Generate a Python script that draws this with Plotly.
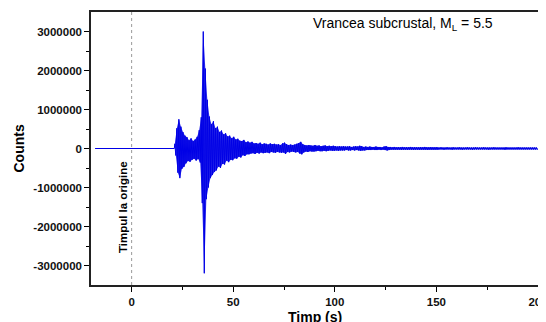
import plotly.graph_objects as go

# ---- data ----
pre_event_time = [-18, 21]          # quiet trace before the onset (s)
pre_event_counts = [0, 0]

bin_start_s = 21                     # first 1-second bin of the shaking record
# per-second maximum / minimum of the trace, in thousands of counts
upper_kcounts = [
    120, 520, 750, 560, 420, 330, 290, 210, 260, 190,   # 21-30
    230, 300, 470, 800, 3000, 2050, 1250, 820, 620, 700,  # 31-40
    520, 560, 420, 460, 360, 390, 310, 330, 260, 300,   # 41-50
    230, 250, 200, 190, 220, 160, 180, 150, 170, 130,   # 51-60
    140, 120, 150, 110, 130, 120, 100, 130, 110, 120,   # 61-70
    100, 110, 90, 130, 150, 110, 90, 100, 90, 100,      # 71-80
    120, 140, 170, 110, 90, 80, 90, 80, 70, 90,         # 81-90
    70, 80, 60, 70, 80, 60, 70, 60, 70, 60,             # 91-100
    50, 60, 50, 60, 50, 50, 60, 40, 50, 60,             # 101-110
    50, 70, 60, 40, 50, 40, 50, 40, 40, 50,             # 111-120
    40, 40, 30, 50, 60, 40, 40, 30, 40, 30,             # 121-130
    35, 30, 40, 30, 35, 30, 40, 30, 35, 30,             # 131-140
    30, 35, 30, 40, 30, 30, 35, 30, 30, 35,             # 141-150
    25, 30, 25, 25, 30, 25, 25, 30, 25, 25,             # 151-160
    30, 25, 25, 25, 30, 25, 25, 25, 30, 25,             # 161-170
    25, 25, 30, 25, 25, 25, 25, 30, 25, 25,             # 171-180
    25, 25, 25, 30, 25, 25, 25, 25, 25, 30,             # 181-190
    25, 25, 25, 25, 25, 25, 25, 25, 25,                 # 191-199
]
lower_kcounts = [
    -180, -620, -760, -520, -470, -380, -320, -340, -290, -260,
    -310, -270, -360, -1400, -3200, -1300, -1000, -760, -680, -600,
    -560, -460, -500, -390, -410, -310, -350, -290, -300, -250,
    -260, -210, -230, -170, -190, -150, -150, -130, -120, -140,
    -110, -130, -100, -120, -110, -100, -120, -90, -100, -110,
    -90, -100, -110, -100, -140, -90, -100, -80, -90, -100,
    -90, -130, -150, -100, -80, -90, -70, -80, -80, -70,
    -60, -70, -70, -60, -70, -60, -50, -60, -60, -50,
    -60, -50, -50, -50, -40, -50, -50, -40, -50, -40,
    -50, -60, -50, -50, -40, -40, -40, -30, -40, -40,
    -30, -40, -30, -40, -50, -40, -30, -30, -30, -30,
    -30, -35, -30, -30, -35, -30, -30, -35, -30, -30,
    -35, -30, -30, -30, -35, -30, -30, -30, -30, -30,
    -25, -25, -30, -25, -25, -25, -30, -25, -25, -25,
    -25, -30, -25, -25, -25, -25, -30, -25, -25, -25,
    -25, -25, -25, -25, -30, -25, -25, -25, -25, -25,
    -25, -25, -30, -25, -25, -25, -25, -25, -25, -25,
    -25, -25, -25, -25, -25, -25, -25, -25, -25,
]

x_ticks = [0, 50, 100, 150, 200]
y_ticks = [-3000000, -2000000, -1000000, 0, 1000000, 2000000, 3000000]

# ---- build the trace (max then min within each 1 s bin) ----
up_x, up_y, lo_x, lo_y = [], [], [], []
for i, (u, l) in enumerate(zip(upper_kcounts, lower_kcounts)):
    t = bin_start_s + i
    up_x.append(t + 0.25)
    up_y.append(u * 1000)
    lo_x.append(t + 0.75)
    lo_y.append(l * 1000)

xs = list(pre_event_time)
ys = list(pre_event_counts)
for a, b, c, d in zip(up_x, up_y, lo_x, lo_y):
    xs += [a, c]
    ys += [b, d]
xs.append(200)
ys.append(0)

# envelope band (same max / min values) so the dense trace reads as solid
band_x = up_x + lo_x[::-1]
band_y = up_y + lo_y[::-1]

FONT = "Arial, Liberation Sans, Helvetica, sans-serif"
BLUE = "#0000e6"

# the page body adds an 8 px offset, so the figure is 8 px smaller
PLOT_W, PLOT_H = 447, 273

fig = go.Figure()
fig.add_trace(go.Scatter(x=band_x, y=band_y, mode="none", fill="toself",
                         fillcolor="rgba(0,0,230,0.85)",
                         hoverinfo="skip", showlegend=False))
fig.add_trace(go.Scatter(x=xs, y=ys, mode="lines",
                         line=dict(color=BLUE, width=1, simplify=False),
                         hoverinfo="skip", showlegend=False))

fig.add_shape(type="line", xref="x", yref="paper", x0=0, x1=0, y0=0, y1=1,
              line=dict(color="#9a9a9a", width=1, dash="dot"))

fig.update_layout(
    width=538, height=314,
    margin=dict(l=83, r=8, t=4, b=37, autoexpand=False),
    paper_bgcolor="white", plot_bgcolor="white",
    font=dict(family=FONT, color="black"),
    showlegend=False,
)

fig.update_xaxes(
    range=[-20, 200], tickvals=x_ticks, ticktext=[str(v) for v in x_ticks],
    ticks="outside", ticklen=5, tickwidth=1.2, tickcolor="black",
    minor=dict(tickvals=[25, 75, 125, 175], ticks="outside", ticklen=3,
               tickwidth=1, tickcolor="black"),
    showline=True, linecolor="#222", linewidth=1.5, mirror=True,
    showgrid=False, zeroline=False, automargin=False,
    ticklabeloverflow="allow",
    tickfont=dict(size=11.5, family=FONT, color="#111", weight="bold"),
)
fig.update_yaxes(
    range=[-3500000, 3500000], tickvals=y_ticks,
    ticktext=[str(v) for v in y_ticks],
    ticks="outside", ticklen=5, tickwidth=1.2, tickcolor="black",
    minor=dict(tickvals=[-2500000, -1500000, -500000, 500000, 1500000, 2500000],
               ticks="outside", ticklen=3, tickwidth=1, tickcolor="black"),
    showline=True, linecolor="#222", linewidth=1.5, mirror=True,
    showgrid=False, zeroline=False, automargin=False,
    tickfont=dict(size=11.5, family=FONT, color="#111", weight="bold"),
)

# axis titles
fig.add_annotation(text="<b>Counts</b>", xref="paper", yref="paper",
                   x=(18 - 91) / PLOT_W, y=0.5, textangle=-90, showarrow=False,
                   xanchor="center", yanchor="middle",
                   font=dict(size=14, family=FONT, color="black"))
fig.add_annotation(text="<b>Timp (s)</b>", xref="paper", yref="paper",
                   x=0.5, y=-(317 - 285) / PLOT_H, showarrow=False,
                   xanchor="center", yanchor="middle",
                   font=dict(size=14, family=FONT, color="black"))

# labels inside the plot
fig.add_annotation(text="Vrancea subcrustal, M<sub>L</sub> = 5.5",
                   xref="paper", yref="paper",
                   x=(311 - 91) / PLOT_W, y=1 - (24 - 12) / PLOT_H,
                   xanchor="left", yanchor="middle", showarrow=False,
                   font=dict(size=14, family=FONT, color="black"))
fig.add_annotation(text="<b>Timpul la origine</b>", xref="x", yref="paper",
                   x=-4.2, y=1 - (207 - 12) / PLOT_H, textangle=-90,
                   xanchor="center", yanchor="middle", showarrow=False,
                   font=dict(size=11.5, family=FONT, color="black"))

fig.write_html("out.html")
